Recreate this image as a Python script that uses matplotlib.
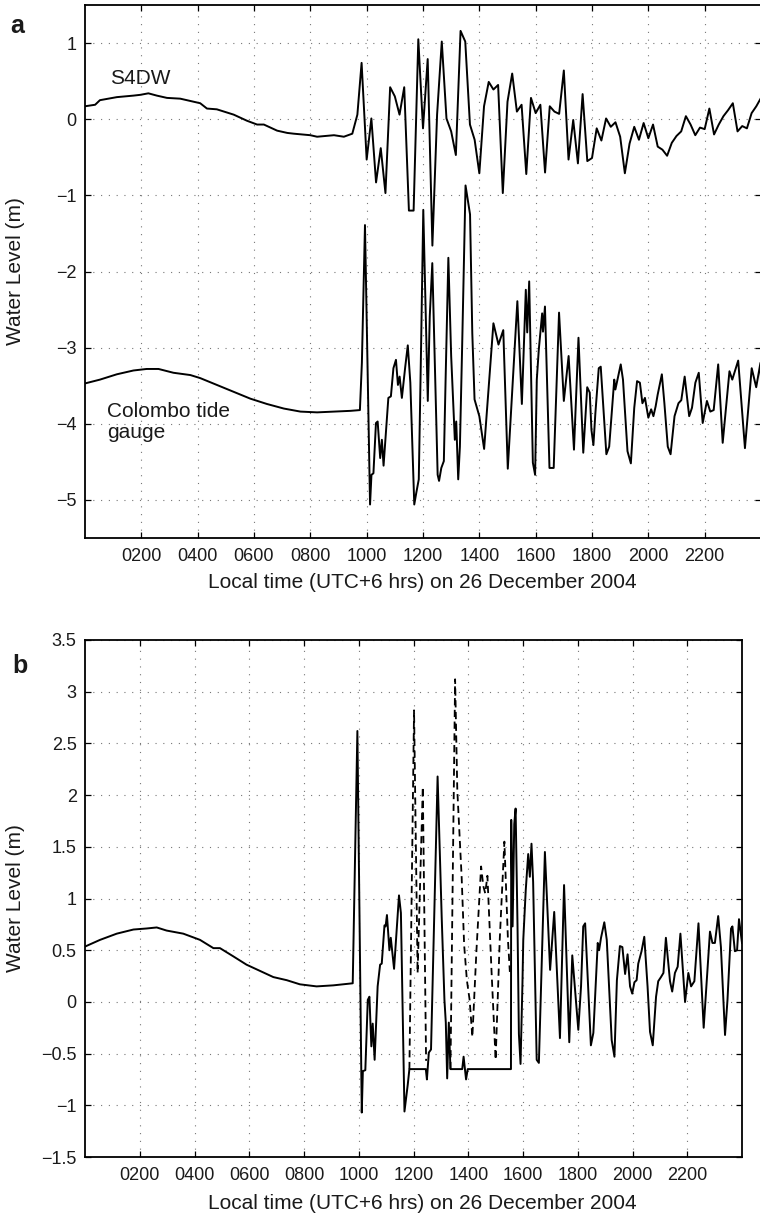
import numpy as np
import matplotlib.pyplot as plt
from matplotlib.ticker import FixedLocator, FuncFormatter

plt.rcParams['font.family'] = ['Liberation Sans', 'DejaVu Sans']

# ---- panel a: S4DW (10 min samples after the quiet part) ----
s4dw_early_hours = [0.0, 0.36, 0.53, 1.13, 1.72, 1.96, 2.25, 2.55, 2.91, 3.38, 4.09, 4.33,
                    4.68, 5.28, 5.75, 6.11, 6.35, 6.82, 7.18, 7.41, 8.0, 8.24, 8.84, 9.19,
                    9.49, 9.67, 9.82]
s4dw_early = [0.17, 0.19, 0.25, 0.29, 0.31, 0.32, 0.34, 0.31, 0.28, 0.27, 0.21, 0.14,
              0.13, 0.06, -0.02, -0.07, -0.07, -0.15, -0.18, -0.19, -0.21, -0.23, -0.21, -0.23,
              -0.19, 0.06, 0.74]
s4dw_late = [-0.53, 0.01, -0.83, -0.38, -0.97, 0.42, 0.30, 0.06, 0.42, -1.2,
             -1.2, 1.05, -0.12, 0.79, -1.66, 0.06, 1.02, 0.01, -0.16, -0.47,
             1.16, 1.02, -0.07, -0.27, -0.71, 0.17, 0.49, 0.39, 0.45, -0.97,
             0.23, 0.60, 0.10, 0.19, -0.72, 0.28, 0.08, 0.19, -0.70, 0.17,
             0.10, 0.07, 0.64, -0.53, -0.01, -0.58, 0.33, -0.55, -0.51, -0.12,
             -0.28, 0.01, -0.10, -0.04, -0.23, -0.71, -0.32, -0.10, -0.27, -0.05,
             -0.25, -0.07, -0.36, -0.40, -0.48, -0.31, -0.22, -0.16, 0.04, -0.07,
             -0.21, -0.11, -0.13, 0.14, -0.20, -0.07, 0.04, 0.12, 0.21, -0.16,
             -0.09, -0.12, 0.08, 0.17, 0.28]
s4dw_late_start = 10.0  # hours, 10 minute spacing

# ---- panel a: Colombo tide gauge ----
colombo_hours = [0.0, 0.53, 1.13, 1.72, 2.19, 2.61, 3.14, 3.74, 4.09, 4.68, 5.28, 5.87,
                 6.46, 7.06, 7.65, 8.24, 8.84, 9.43, 9.76, 9.83, 9.94, 10.02, 10.12, 10.17,
                 10.24, 10.33, 10.39, 10.48, 10.54, 10.60, 10.77, 10.86, 10.95, 11.04, 11.11,
                 11.17, 11.25, 11.37, 11.46, 11.55, 11.69, 11.76, 11.85, 11.93, 12.01, 12.17,
                 12.24, 12.33, 12.42, 12.52, 12.57, 12.65, 12.74, 12.80, 12.90, 13.00, 13.13,
                 13.18, 13.25, 13.31, 13.39, 13.51, 13.67, 13.75, 13.83, 14.00, 14.17, 14.50,
                 14.68, 14.85, 15.01, 15.35, 15.51, 15.65, 15.70, 15.77, 15.90, 15.98, 16.04,
                 16.11, 16.23, 16.26, 16.33, 16.49, 16.64, 16.83, 17.00, 17.17, 17.36, 17.52,
                 17.69, 17.83, 17.92, 17.98, 18.05, 18.12, 18.24, 18.31, 18.51, 18.61, 18.79,
                 18.83, 19.02, 19.10, 19.26, 19.38, 19.50, 19.60, 19.70, 19.79, 19.88, 20.00,
                 20.10, 20.18, 20.26, 20.33, 20.48, 20.57, 20.69, 20.79, 20.93, 21.07, 21.17,
                 21.29, 21.45, 21.55, 21.67, 21.79, 21.93, 22.08, 22.20, 22.32, 22.48, 22.64,
                 22.88, 22.98, 23.19, 23.43, 23.67, 23.83, 23.98, 24.0]
colombo = [-3.47, -3.42, -3.35, -3.30, -3.28, -3.28, -3.33, -3.36, -3.40, -3.49, -3.58, -3.67,
           -3.74, -3.80, -3.84, -3.85, -3.84, -3.83, -3.82, -3.2, -1.39, -3.03, -5.06, -4.67,
           -4.65, -3.99, -3.97, -4.45, -4.21, -4.55, -3.66, -3.64, -3.27, -3.16, -3.49,
           -3.38, -3.66, -3.25, -2.97, -3.46, -5.06, -4.91, -4.73, -3.03, -1.19, -3.70,
           -2.59, -1.89, -3.20, -4.67, -4.75, -4.58, -4.49, -3.46, -1.82, -3.11, -4.21,
           -3.97, -4.73, -4.30, -2.98, -0.87, -1.25, -2.81, -3.68, -3.90, -4.33, -2.68,
           -2.96, -2.77, -4.59, -2.39, -3.74, -2.24, -2.80, -2.13, -4.51, -4.67, -3.42,
           -3.03, -2.55, -2.79, -2.46, -4.58, -4.58, -2.54, -3.70, -3.11, -4.34, -2.87,
           -4.38, -3.52, -3.59, -4.08, -4.28, -3.86, -3.27, -3.25, -4.40, -4.30, -3.42,
           -3.55, -3.22, -3.42, -4.36, -4.52, -3.79, -3.44, -3.46, -3.73, -3.66, -3.92,
           -3.81, -3.90, -3.77, -3.62, -3.35, -3.73, -4.30, -4.40, -3.90, -3.73, -3.69,
           -3.38, -3.90, -3.79, -3.46, -3.33, -3.99, -3.70, -3.84, -3.82, -3.22, -4.25,
           -3.31, -3.42, -3.17, -4.32, -3.27, -3.52, -3.20, -3.45]

# ---- panel b: residual (solid) ----
resid_hours = [0.0, 0.55, 1.16, 1.77, 2.25, 2.62, 2.98, 3.59, 4.20, 4.69, 4.93, 5.42, 5.90,
               6.39, 6.88, 7.37, 7.85, 8.46, 9.07, 9.44, 9.78, 9.95, 10.11, 10.15, 10.24,
               10.33, 10.39, 10.46, 10.51, 10.58, 10.69, 10.78, 10.84, 10.94, 10.98, 11.03,
               11.12, 11.17, 11.29, 11.47, 11.54, 11.67, 11.79, 11.85, 12.45, 12.49, 12.56,
               12.64, 12.88, 13.03, 13.13, 13.18, 13.23, 13.29, 13.35, 13.78, 13.83, 13.92,
               13.98, 15.56, 15.57, 15.62, 15.68, 15.73, 15.80, 15.85, 15.91, 15.98, 16.01,
               16.10, 16.19, 16.25, 16.31, 16.37, 16.50, 16.58, 16.80, 16.99, 17.14, 17.35,
               17.50, 17.69, 17.80, 17.96, 18.02, 18.12, 18.20, 18.27, 18.48, 18.57, 18.73,
               18.78, 18.85, 18.97, 19.06, 19.24, 19.34, 19.43, 19.54, 19.63, 19.73, 19.82,
               19.91, 19.99, 20.07, 20.15, 20.21, 20.33, 20.43, 20.55, 20.64, 20.74, 20.86,
               20.94, 21.04, 21.13, 21.22, 21.37, 21.45, 21.55, 21.65, 21.75, 21.92, 22.04,
               22.14, 22.26, 22.41, 22.60, 22.83, 22.92, 23.01, 23.13, 23.23, 23.38, 23.47,
               23.60, 23.65, 23.74, 23.82, 23.89, 24.0]
resid = [0.535, 0.60, 0.66, 0.70, 0.71, 0.72, 0.69, 0.66, 0.60, 0.52, 0.52, 0.44, 0.36,
         0.30, 0.24, 0.21, 0.17, 0.15, 0.16, 0.17, 0.18, 2.62, -1.07, -0.67, -0.66,
         0.02, 0.05, -0.43, -0.21, -0.56, 0.15, 0.36, 0.37, 0.74, 0.73, 0.84,
         0.50, 0.62, 0.32, 1.03, 0.86, -1.06, -0.80, -0.65, -0.65, -0.75, -0.49,
         -0.46, 2.18, 0.82, 0.02, -0.20, -0.74, -0.20, -0.65, -0.65, -0.53, -0.75,
         -0.65, -0.65, 1.76, 0.73, 1.72, 1.87, 0.73, -0.31, -0.60, 0.18, 0.60,
         1.08, 1.43, 1.21, 1.53, 1.16, -0.56, -0.59, 1.45, 0.31, 0.87, -0.35,
         1.13, -0.39, 0.45, -0.08, -0.27, 0.15, 0.73, 0.76, -0.42, -0.30, 0.57,
         0.50, 0.62, 0.77, 0.60, -0.37, -0.53, 0.21, 0.54, 0.53, 0.27, 0.46,
         0.15, 0.08, 0.19, 0.21, 0.37, 0.49, 0.63, 0.15, -0.29, -0.42, 0.05,
         0.20, 0.24, 0.28, 0.62, 0.20, 0.10, 0.28, 0.34, 0.66, 0.00, 0.28,
         0.15, 0.20, 0.76, -0.25, 0.68, 0.57, 0.57, 0.83, 0.53, -0.32, 0.02,
         0.71, 0.73, 0.49, 0.50, 0.80, 0.57]

# ---- panel b: reconstructed parts (dashed), gap where the record is good ----
recon_hours = [11.85, 12.02, 12.15, 12.34, 12.46, 12.9,
               13.35, 13.52, 13.60, 13.76, 13.85, 13.95, 14.05, 14.15, 14.30, 14.47,
               14.55, 14.62, 14.70, 14.85, 15.00, 15.15, 15.32, 15.45, 15.52]
recon = [-0.65, 2.82, 0.28, 2.08, -0.57, np.nan,
         -0.65, 3.12, 2.05, 1.20, 0.55, 0.21, 0.02, -0.34, 0.50, 1.31,
         1.12, 1.05, 1.22, 0.30, -0.56, 0.60, 1.55, 0.60, 0.29]

hour_ticks = [2, 4, 6, 8, 10, 12, 14, 16, 18, 20, 22]
hour_labels = ['0200', '0400', '0600', '0800', '1000', '1200', '1400', '1600', '1800', '2000', '2200']

xlabel = 'Local time (UTC+6 hrs) on 26 December 2004'
ylabel = 'Water Level (m)'
ink = '#1a1a1a'


def style_axes(ax, yticks):
    ax.set_xlim(0, 24)
    ax.xaxis.set_major_locator(FixedLocator(hour_ticks))
    ax.set_xticklabels(hour_labels)
    ax.yaxis.set_major_locator(FixedLocator(yticks))
    ax.yaxis.set_major_formatter(FuncFormatter(lambda v, p: ('%g' % v).replace('-', '\u2212')))
    ax.tick_params(direction='in', length=4, width=0.9, top=True, right=True,
                   labelsize=13, colors='black', labelcolor=ink)
    ax.tick_params(axis='x', pad=7)
    ax.tick_params(axis='y', pad=6)
    ax.grid(True, color='#777777', linestyle=(0, (1, 6)), linewidth=0.8)
    for s in ax.spines.values():
        s.set_linewidth(1.3)
        s.set_color('black')


fig = plt.figure(figsize=(7.6, 12.18), dpi=100)

ax1 = fig.add_axes([85 / 760, 1 - 538 / 1218, 676 / 760, 533 / 1218])
s4dw_hours = s4dw_early_hours + list(s4dw_late_start + np.arange(len(s4dw_late)) / 6)
ax1.plot(s4dw_hours, s4dw_early + s4dw_late, color='black', lw=1.4)
ax1.plot(colombo_hours, colombo, color='black', lw=1.4)
ax1.set_ylim(-5.5, 1.5)
style_axes(ax1, [-5, -4, -3, -2, -1, 0, 1])
ax1.text(0.89, 0.535, 'S4DW', fontsize=15, color=ink, ha='left', va='center')
ax1.text(0.78, -3.98, 'Colombo tide\ngauge', fontsize=15, color=ink, ha='left', va='center',
         linespacing=1.15)
ax1.set_xlabel(xlabel, fontsize=15, color=ink)
ax1.set_ylabel(ylabel, fontsize=15, color=ink)
ax1.xaxis.set_label_coords((422 - 85) / 676, -0.066)
ax1.yaxis.set_label_coords((25 - 85) / 676, 0.5)

ax2 = fig.add_axes([85 / 760, 1 - 1157 / 1218, 657 / 760, 517 / 1218])
ax2.plot(resid_hours, resid, color='black', lw=1.4)
ax2.plot(recon_hours, recon, color='black', lw=1.3, linestyle=(0, (4, 2.5)))
ax2.set_ylim(-1.5, 3.5)
style_axes(ax2, [-1.5, -1, -0.5, 0, 0.5, 1, 1.5, 2, 2.5, 3, 3.5])
ax2.set_xlabel(xlabel, fontsize=15, color=ink)
ax2.set_ylabel(ylabel, fontsize=15, color=ink)
ax2.xaxis.set_label_coords((422 - 85) / 657, -0.072)
ax2.yaxis.set_label_coords((25 - 85) / 657, 0.5)

fig.text(10 / 760, 1 - 33 / 1218, 'a', fontsize=18, fontweight='bold', color=ink, va='baseline')
fig.text(12 / 760, 1 - 673 / 1218, 'b', fontsize=18, fontweight='bold', color=ink, va='baseline')

fig.savefig('out.png', dpi=100)
